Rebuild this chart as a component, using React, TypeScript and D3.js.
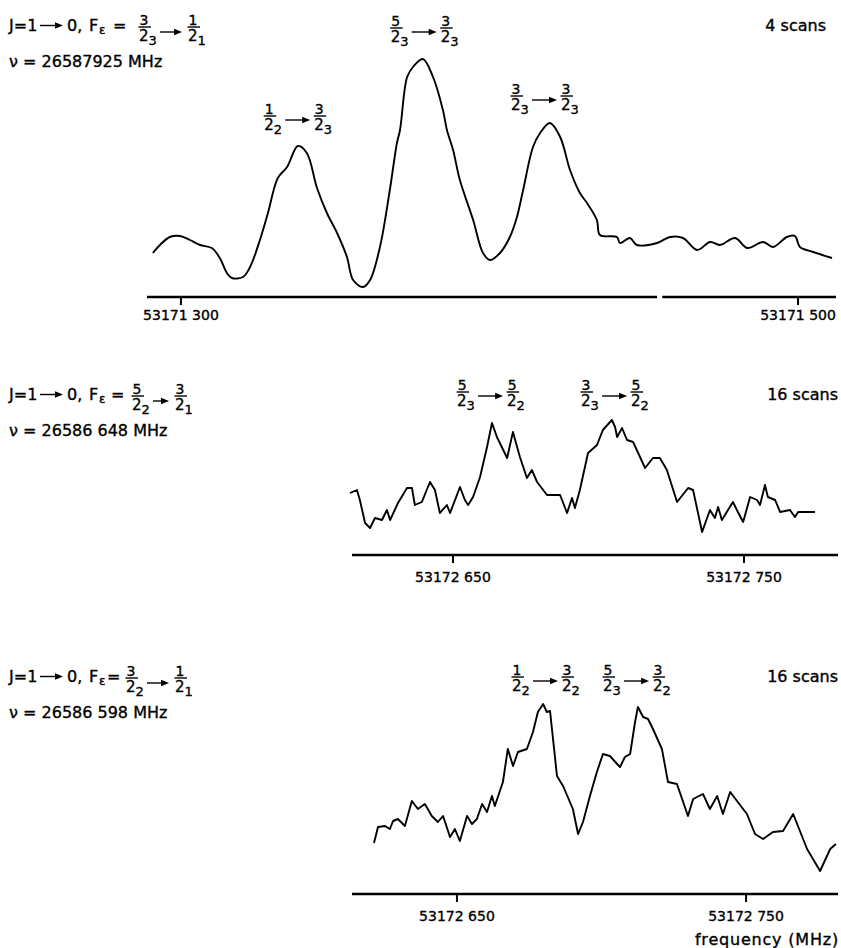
import React from 'react';
import * as d3 from 'd3';

const FONT = "'DejaVu Sans', 'Noto Sans', sans-serif";

// ---------- Panel 1: F = 3/2_3 -> 1/2_1 (frequency = 53171000 + value, MHz) ----------
const topBase = 53171000;
const topFreq = [290.9, 293.2, 296.4, 299.7, 302.9, 306.2, 310.0, 312.6, 314.9, 316.5, 320.1, 322.4, 325.6, 328.2, 331.4, 334.4, 337.9, 340.8, 344.1, 347.3, 350.6, 353.8, 355.8, 359.0, 361.3, 364.5, 367.7, 370.0, 371.0, 373.3, 375.2, 378.4, 381.7, 384.9, 386.2, 388.2, 390.4, 394.7, 397.9, 400.2, 403.4, 406.6, 408.9, 410.9, 414.1, 416.4, 419.6, 422.9, 426.1, 429.3, 431.6, 434.8, 435.8, 441.3, 442.3, 445.5, 447.8, 454.3, 458.5, 462.7, 467.3, 471.5, 474.7, 479.6, 483.5, 488.7, 491.9, 496.4, 499.0, 500.6, 504.9, 511.0];
const topInt = [44, 52, 60, 61, 57, 52, 49, 39, 24, 19, 20, 30, 57, 84, 119, 130, 151, 144, 109, 84, 64, 40, 17, 10, 17, 50, 107, 154, 167, 220, 230, 238, 220, 187, 167, 147, 117, 77, 44, 37, 44, 60, 80, 107, 150, 164, 174, 160, 127, 104, 94, 77, 62, 60, 54, 59, 52, 54, 60, 59, 47, 55, 52, 59, 49, 55, 50, 60, 61, 50, 45, 39];
const topDomain = [289.0, 512.3];
const topTicks = [300, 500];
const topTickLabels = ['53171 300', '53171 500'];
const topAxisGap = [454.3, 456.0];

// ---------- Panel 2: F = 5/2_2 -> 3/2_1 (frequency = 53172000 + value, MHz) ----------
const midBase = 53172000;
const midFreq = [614.6, 617.0, 618.0, 619.8, 621.5, 623.2, 625.6, 627.3, 628.4, 631.1, 634.2, 635.9, 636.9, 639.3, 642.1, 643.8, 645.5, 647.9, 649.0, 652.4, 654.1, 655.2, 656.9, 659.3, 661.7, 663.4, 665.1, 668.6, 670.6, 673.0, 675.4, 677.1, 678.9, 682.3, 686.8, 689.2, 690.9, 691.9, 693.6, 696.4, 699.5, 701.5, 704.6, 705.7, 706.4, 708.1, 709.8, 711.9, 716.0, 718.7, 721.1, 723.5, 727.0, 730.8, 732.5, 735.6, 738.3, 740.0, 741.1, 742.4, 746.2, 747.9, 749.7, 752.1, 754.5, 755.5, 757.2, 758.2, 760.7, 762.4, 765.8, 767.5, 768.6, 774.4];
const midInt = [62, 65, 55, 32, 27, 37, 35, 45, 35, 52, 67, 67, 50, 53, 73, 65, 42, 50, 42, 68, 55, 50, 58, 78, 108, 132, 118, 97, 123, 98, 77, 85, 73, 60, 60, 42, 57, 47, 65, 102, 110, 125, 135, 128, 118, 127, 115, 113, 87, 97, 97, 85, 53, 67, 65, 23, 45, 37, 48, 35, 53, 43, 33, 58, 55, 50, 70, 58, 55, 43, 45, 38, 43, 43];
const midDomain = [615.3, 782.3];
const midTicks = [650, 750];
const midTickLabels = ['53172 650', '53172 750'];

// ---------- Panel 3: F = 3/2_2 -> 1/2_1 (frequency = 53172000 + value, MHz) ----------
const botBase = 53172000;
const botFreq = [621.3, 622.7, 625.1, 626.8, 627.9, 629.6, 632.0, 634.4, 636.5, 638.9, 641.3, 643.4, 645.2, 647.6, 649.3, 651.0, 653.5, 655.2, 656.9, 658.7, 660.4, 662.1, 663.1, 665.9, 667.6, 669.4, 671.1, 674.2, 676.3, 678.0, 679.8, 681.1, 682.2, 684.6, 686.7, 690.1, 691.9, 693.6, 696.0, 698.4, 700.5, 702.9, 705.4, 706.4, 708.1, 709.9, 711.6, 712.6, 714.4, 716.1, 717.8, 720.9, 723.0, 726.1, 729.9, 731.7, 735.1, 737.5, 740.0, 742.0, 744.5, 750.3, 753.1, 755.9, 759.3, 762.8, 766.3, 771.1, 775.6, 779.1, 781.1];
const botInt = [51, 67, 68, 65, 73, 75, 68, 93, 85, 90, 78, 72, 78, 57, 65, 53, 78, 70, 75, 90, 82, 98, 88, 112, 145, 128, 142, 145, 162, 182, 190, 182, 183, 118, 108, 85, 60, 72, 98, 122, 140, 138, 130, 127, 137, 140, 172, 187, 177, 175, 165, 145, 112, 110, 78, 95, 100, 85, 98, 80, 102, 80, 60, 55, 62, 63, 80, 45, 23, 45, 50];
const botDomain = [613.7, 781.8];
const botTicks = [650, 750];
const botTickLabels = ['53172 650', '53172 750'];

// ---------- Text ----------
const headNu = ['26587925', '26586 648', '26586 598'];
const headFrac = [[3, 3, 1, 1], [5, 2, 3, 1], [3, 2, 1, 1]]; // num1, sub1, num2, sub2
const scans = ['4 scans', '16 scans', '16 scans'];
const topPeaks = [[1, 2, 3, 3, 338.0], [5, 3, 3, 3, 379.0], [3, 3, 3, 3, 418.0]];
const midPeaks = [[5, 3, 5, 2, 663.1], [3, 3, 5, 2, 705.7]];
const botPeaks = [[1, 2, 3, 2, 680.8], [5, 3, 3, 2, 712.3]];
const xTitle = 'frequency (MHz)';

// layout
const panels = [
  { freq: topFreq, int: topInt, domain: topDomain, ticks: topTicks, tickLabels: topTickLabels, gap: topAxisGap, peaks: topPeaks, smooth: true,
    x0: 147, x1: 836, axisY: 297, labelDy: 23, headY: 31, eqX: 113, frac1X: 139, frac2X: 188, peakBarY: [116, 28, 96], scansX: 826 },
  { freq: midFreq, int: midInt, domain: midDomain, ticks: midTicks, tickLabels: midTickLabels, gap: null, peaks: midPeaks, smooth: false,
    x0: 352, x1: 838, axisY: 555, labelDy: 27, headY: 400, eqX: 111, frac1X: 132, frac2X: 175, peakBarY: [392, 392], scansX: 838 },
  { freq: botFreq, int: botInt, domain: botDomain, ticks: botTicks, tickLabels: botTickLabels, gap: null, peaks: botPeaks, smooth: false,
    x0: 352, x1: 838, axisY: 894, labelDy: 27, headY: 682, eqX: 107, frac1X: 126, frac2X: 175, peakBarY: [677, 677], scansX: 838 },
];

const TXT = { fill: '#000', stroke: '#000', strokeWidth: 0.35 };

function Arrow({ x1, x2, y }: { x1: number; x2: number; y: number }) {
  return (
    <g>
      <line x1={x1} x2={x2 - 5} y1={y} y2={y} stroke="#000" strokeWidth={1.4} />
      <path d={`M${x2 - 8},${y - 3.2} L${x2},${y} L${x2 - 8},${y + 3.2} Z`} fill="#000" />
    </g>
  );
}

function Frac({ x, y, num, sub }: { x: number; y: number; num: number; sub: number }) {
  return (
    <g fontFamily={FONT} {...TXT}>
      <text x={x + 5} y={y - 2.5} fontSize={14} textAnchor="middle">{num}</text>
      <line x1={x - 0.5} x2={x + 12} y1={y} y2={y} stroke="#000" strokeWidth={1.4} />
      <text x={x} y={y + 14} fontSize={15}>2</text>
      <text x={x + 9.5} y={y + 18} fontSize={13}>{sub}</text>
    </g>
  );
}

function PeakLabel({ cx, y, p }: { cx: number; y: number; p: number[] }) {
  return (
    <g>
      <Frac x={cx - 34} y={y} num={p[0]} sub={p[1]} />
      <Arrow x1={cx - 13} x2={cx + 12} y={y + 4} />
      <Frac x={cx + 16} y={y} num={p[2]} sub={p[3]} />
    </g>
  );
}

function Panel({ cfg, i }: { cfg: any; i: number }) {
  const x = d3.scaleLinear().domain(cfg.domain).range([cfg.x0, cfg.x1]);
  const y = d3.scaleLinear().domain([0, 250]).range([cfg.axisY, cfg.axisY - 250]);
  const pts = cfg.freq.map((f: number, k: number) => [f, cfg.int[k]] as [number, number]);
  const line = d3
    .line<[number, number]>()
    .x((d) => x(d[0]))
    .y((d) => y(d[1]))
    .curve(cfg.smooth ? d3.curveCatmullRom.alpha(0.5) : d3.curveLinear);
  const segs: [number, number][] = cfg.gap
    ? [[cfg.x0, x(cfg.gap[0])], [x(cfg.gap[1]), cfg.x1]]
    : [[cfg.x0, cfg.x1]];
  const hy = cfg.headY;
  const fr = headFrac[i];
  const barY = hy - 4;
  return (
    <g>
      {/* heading */}
      <g fontFamily={FONT} fontSize={16} {...TXT}>
        <text x={9} y={hy}>J=1</text>
        <text x={67} y={hy}>0,</text>
        <text x={89} y={hy}>F</text>
        <text x={99} y={hy + 3} fontSize={12}>ε</text>
        <text x={cfg.eqX} y={hy}>=</text>
        <text x={9} y={hy + 36}>{`ν = ${headNu[i]} MHz`}</text>
        <text x={cfg.scansX} y={hy} textAnchor="end">{scans[i]}</text>
      </g>
      <Arrow x1={40} x2={63} y={hy - 5.5} />
      <Frac x={cfg.frac1X} y={barY} num={fr[0]} sub={fr[1]} />
      <Arrow x1={cfg.frac1X + 21} x2={cfg.frac2X - 6} y={barY + 5} />
      <Frac x={cfg.frac2X} y={barY} num={fr[2]} sub={fr[3]} />
      {/* peak assignments */}
      {cfg.peaks.map((p: number[], k: number) => (
        <PeakLabel key={k} cx={x(p[4])} y={cfg.peakBarY[k]} p={p} />
      ))}
      {/* trace */}
      <path d={line(pts) || ''} fill="none" stroke="#000" strokeWidth={1.9} strokeLinejoin="round" />
      {/* axis */}
      {segs.map((s, k) => (
        <line key={k} x1={s[0]} x2={s[1]} y1={cfg.axisY} y2={cfg.axisY} stroke="#000" strokeWidth={2.6} />
      ))}
      {cfg.ticks.map((t: number, k: number) => (
        <g key={k}>
          <line x1={x(t)} x2={x(t)} y1={cfg.axisY} y2={cfg.axisY + 8} stroke="#000" strokeWidth={2} />
          <text x={x(t)} y={cfg.axisY + cfg.labelDy} fontFamily={FONT} fontSize={14} textAnchor="middle" {...TXT}>
            {cfg.tickLabels[k]}
          </text>
        </g>
      ))}
    </g>
  );
}

export default function App() {
  return (
    <svg
      width={841}
      height={948}
      viewBox="0 0 841 948"
      style={{ position: 'absolute', left: 0, top: 0, display: 'block', background: '#fff' }}
    >
      <rect x={0} y={0} width={841} height={948} fill="#fff" />
      {panels.map((p, i) => (
        <Panel key={i} cfg={p} i={i} />
      ))}
      <text x={839} y={945} fontFamily={FONT} fontSize={16} letterSpacing={0.8} textAnchor="end" {...TXT}>
        {xTitle}
      </text>
    </svg>
  );
}
